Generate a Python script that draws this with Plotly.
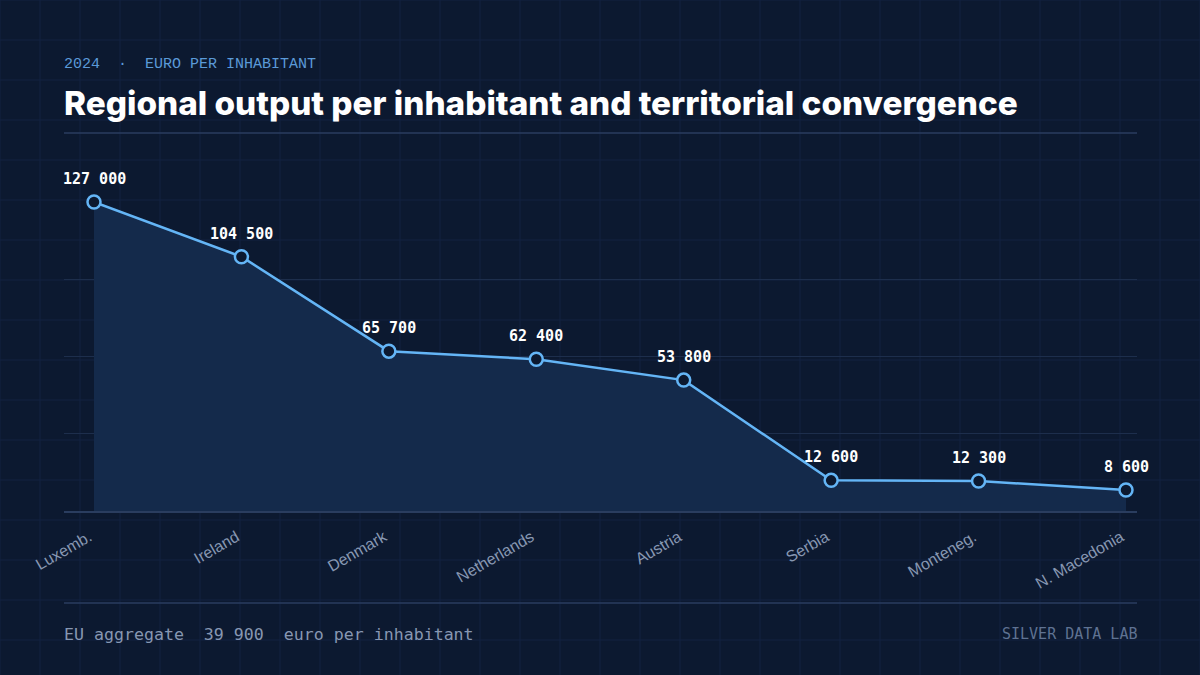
import plotly.graph_objects as go

# ---- data ----
countries = ["Luxemb.", "Ireland", "Denmark", "Netherlands", "Austria",
             "Serbia", "Monteneg.", "N. Macedonia"]
values = [127000, 104500, 65700, 62400, 53800, 12600, 12300, 8600]
eu_aggregate = 39900
grid_vals = [31750, 63500, 95250]

BG = "#0c1930"
FAINT = "#122240"
GRID = "#1d2e4c"
RULE = "#2a3d5f"
LINE = "#64b5f6"
FILL = "#142a4b"
TICK = "#8797b2"

W, H = 1200, 675
L, R, T, B = 64, 63, 202, 164
PW = W - L - R
PH = H - T - B
step = (1126 - 94) / 7.0


def px2x(px):
    return (px - L) / PW


def py2y(py):
    return (H - B - py) / PH


def fmt(v):
    return f"{v:,}".replace(",", " ")


xs = list(range(len(countries)))

fig = go.Figure()
fig.add_trace(go.Scatter(
    x=xs, y=values, mode="lines+markers",
    fill="tozeroy", fillcolor=FILL,
    line=dict(color=LINE, width=2.5),
    marker=dict(size=13, color=BG, line=dict(color=LINE, width=2.5)),
    cliponaxis=False, hoverinfo="skip", showlegend=False,
))

shapes = []
# page background grid
for gx in range(0, W + 1, 40):
    shapes.append(dict(type="line", xref="paper", yref="paper",
                       x0=px2x(gx), x1=px2x(gx), y0=py2y(0), y1=py2y(H),
                       line=dict(color=FAINT, width=1), layer="below"))
for gy in range(0, H + 1, 40):
    shapes.append(dict(type="line", xref="paper", yref="paper",
                       x0=px2x(0), x1=px2x(W), y0=py2y(gy), y1=py2y(gy),
                       line=dict(color=FAINT, width=1), layer="below"))
# title rule and footer rule
for ry in (133, 603):
    shapes.append(dict(type="line", xref="paper", yref="paper",
                       x0=0, x1=1, y0=py2y(ry), y1=py2y(ry),
                       line=dict(color=RULE, width=1.5), layer="below"))

annotations = []
for i, v in enumerate(values):
    annotations.append(dict(x=i, y=v, xref="x", yref="y", text=fmt(v),
                            showarrow=False, yshift=23,
                            font=dict(family="DejaVu Sans Mono", size=15,
                                      color="#ffffff", weight="bold")))

annotations.append(dict(
    x=0, y=py2y(64), xref="paper", yref="paper", xanchor="left", yanchor="middle",
    text="2024\u00a0\u00a0·\u00a0\u00a0EURO PER INHABITANT", showarrow=False, xshift=-2,
    font=dict(family="Liberation Mono", size=15, color="#5b9ad8")))
annotations.append(dict(
    x=0, y=py2y(103), xref="paper", yref="paper", xanchor="left", yanchor="middle",
    text="Regional output per inhabitant and territorial convergence",
    showarrow=False, xshift=-2,
    font=dict(family="Inter", size=33.3, color="#ffffff", weight=800)))
annotations.append(dict(
    x=0, y=py2y(634), xref="paper", yref="paper", xanchor="left", yanchor="middle",
    text=f"EU aggregate\u00a0\u00a0{fmt(eu_aggregate)}\u00a0\u00a0euro per inhabitant",
    showarrow=False, xshift=-2,
    font=dict(family="DejaVu Sans Mono", size=16.6, color=TICK)))
annotations.append(dict(
    x=1, y=py2y(634), xref="paper", yref="paper", xanchor="right", yanchor="middle",
    text="SILVER DATA LAB", showarrow=False, xshift=2,
    font=dict(family="DejaVu Sans Mono", size=15, color="#5f7292")))

fig.update_layout(
    width=W, height=H, autosize=False,
    margin=dict(l=L, r=R, t=T, b=B, pad=0),
    paper_bgcolor=BG, plot_bgcolor="rgba(0,0,0,0)",
    shapes=shapes, annotations=annotations,
    xaxis=dict(range=[-(94 - L) / step, 7 + (1137 - 1126) / step],
               tickmode="array", tickvals=xs, ticktext=countries,
               tickangle=-30, showgrid=False, zeroline=False,
               showline=True, linecolor=RULE, linewidth=1.5,
               ticks="", ticklabelstandoff=9, ticklabelshift=-5,
               tickfont=dict(family="Liberation Sans", size=16, color=TICK)),
    yaxis=dict(range=[0, max(values)], tickmode="array", tickvals=grid_vals,
               showticklabels=False, showgrid=True, gridcolor=GRID, gridwidth=1,
               zeroline=False, showline=False),
)

fig.write_html("out.html")
